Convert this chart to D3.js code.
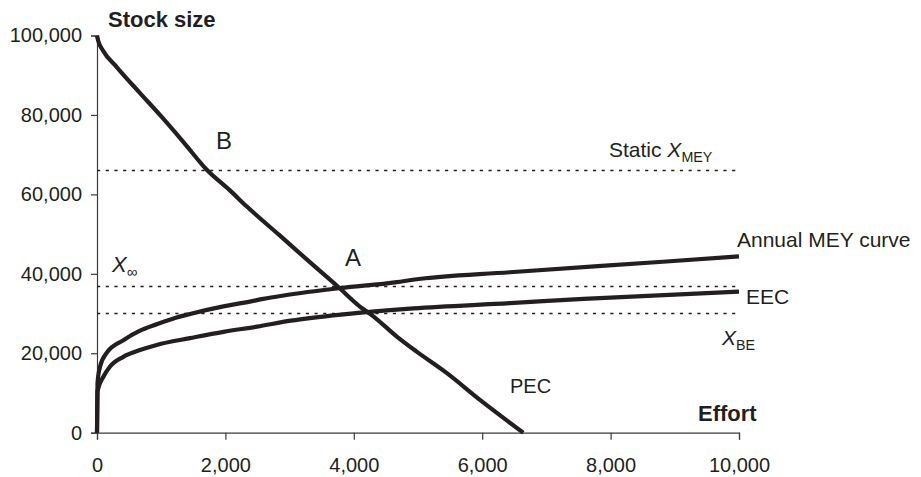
<!DOCTYPE html>
<html>
<head>
<meta charset="utf-8">
<script src="https://cdn.jsdelivr.net/npm/d3@7/dist/d3.min.js"></script>
<style>
  html, body { margin: 0; padding: 0; background: #fff; }
  svg { display: block; font-family: "Liberation Sans", Arial, Helvetica, sans-serif; }
</style>
</head>
<body>
<svg id="chart" width="921" height="477"></svg>
<script>
// Effort levels and stock sizes for the three curves
const pecEffort = [0, 20, 90, 310, 670, 980, 1340, 1710, 2070, 2330, 2850, 3360, 3750, 4100, 4280, 4670, 4980, 5450, 5970, 6640];
const pecStock  = [100000, 98600, 96300, 92000, 85500, 80000, 73300, 66200, 61000, 57000, 49600, 42300, 36800, 31700, 29600, 24200, 20400, 15000, 8200, 0];

const meyEffort = [0, 8, 47, 150, 410, 670, 930, 1240, 1450, 1970, 2380, 2590, 2930, 3790, 4670, 4920, 6430, 8870, 10000];
const meyStock  = [0, 12500, 16600, 20100, 23300, 25700, 27300, 29000, 29900, 31800, 33000, 33700, 34600, 36400, 37900, 38500, 40400, 43100, 44400];

const eecEffort = [0, 8, 100, 200, 410, 670, 930, 1450, 1970, 2490, 3020, 3840, 4930, 6430, 7580, 10000];
const eecStock  = [0, 10500, 14100, 16600, 19100, 20800, 22100, 23800, 25400, 26700, 28200, 29800, 31300, 32600, 33700, 35500];

// Reference stock levels (dotted lines)
const refLevels = [66000, 36800, 30000];

// Axis ticks
const xTicks = [0, 2000, 4000, 6000, 8000, 10000];
const yTicks = [0, 20000, 40000, 60000, 80000, 100000];

const ink = "#231f20";
const svg = d3.select("#chart");

const x = d3.scaleLinear().domain([0, 10000]).range([97, 739]);
const y = d3.scaleLinear().domain([0, 100000]).range([432.7, 35.5]);

// Axes
const xAxis = svg.append("g")
  .attr("transform", `translate(0,${y(0)})`)
  .call(d3.axisBottom(x).tickValues(xTicks).tickFormat(d3.format(",")).tickSize(7).tickPadding(18));
const yAxis = svg.append("g")
  .attr("transform", `translate(${x(0)},0)`)
  .call(d3.axisLeft(y).tickValues(yTicks).tickFormat(d3.format(",")).tickSize(6).tickPadding(9));

[xAxis, yAxis].forEach(g => {
  g.select(".domain").attr("stroke", "#3a3a3a").attr("stroke-width", 1.2);
  g.selectAll(".tick line").attr("stroke", "#3a3a3a").attr("stroke-width", 1.2);
  g.selectAll(".tick text")
    .attr("fill", ink)
    .style("font-size", "20px")
    .style("font-family", "\"Liberation Sans\", Arial, Helvetica, sans-serif");
});

// Dotted reference lines
svg.append("g").selectAll("line")
  .data(refLevels)
  .join("line")
  .attr("x1", x(0)).attr("x2", x(10000))
  .attr("y1", d => y(d)).attr("y2", d => y(d))
  .attr("stroke", ink)
  .attr("stroke-width", 1.6)
  .attr("stroke-dasharray", "3.2,5.5");

// Curves
const line = d3.line()
  .x(d => x(d[0]))
  .y(d => y(d[1]))
  .curve(d3.curveMonotoneX);
const series = [
  d3.zip(pecEffort, pecStock),
  d3.zip(meyEffort, meyStock),
  d3.zip(eecEffort, eecStock)
];
svg.append("g").selectAll("path")
  .data(series)
  .join("path")
  .attr("d", line)
  .attr("fill", "none")
  .attr("stroke", ink)
  .attr("stroke-width", 4.2)
  .attr("stroke-linejoin", "round")
  .attr("stroke-linecap", "butt");

// Text annotations
const txt = (xp, yp, s, size, weight) => svg.append("text")
  .attr("x", xp).attr("y", yp)
  .attr("fill", ink)
  .style("font-size", size + "px")
  .style("font-weight", weight || "normal")
  .text(s);

txt(108, 27, "Stock size", 22, "bold");
txt(698, 421, "Effort", 22, "bold");
txt(216, 149, "B", 24);
txt(345, 266, "A", 24);
txt(510, 393, "PEC", 20);
txt(737, 247, "Annual MEY curve", 21);
txt(746, 304, "EEC", 21);

// Symbol labels with subscripts
function symbolLabel(xp, yp, prefix, sub, size) {
  const t = svg.append("text")
    .attr("x", xp).attr("y", yp)
    .attr("fill", ink)
    .style("font-size", size + "px");
  if (prefix) t.append("tspan").text(prefix);
  t.append("tspan").style("font-style", "italic").text("X");
  t.append("tspan")
    .attr("dy", 5)
    .style("font-size", (size * 0.68) + "px")
    .text(sub);
}
symbolLabel(609, 157, "Static ", "MEY", 21);
symbolLabel(112, 272, null, "\u221E", 22);
symbolLabel(722, 345, null, "BE", 21);
</script>
</body>
</html>
